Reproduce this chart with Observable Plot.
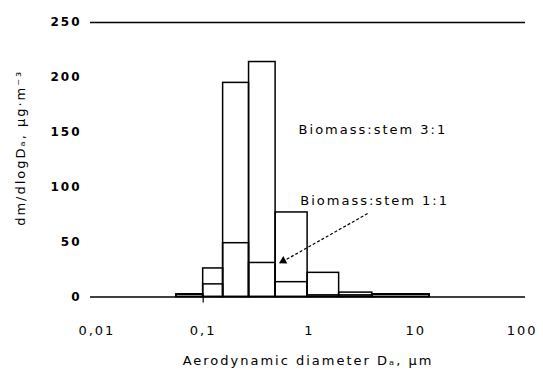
<!DOCTYPE html>
<html>
<head>
<meta charset="utf-8">
<script src="https://cdn.jsdelivr.net/npm/d3@7"></script>
<script src="https://cdn.jsdelivr.net/npm/@observablehq/plot@0.6"></script>
<style>
  body { margin: 0; background: #fff; }
  #chart svg { display: block; }
  #chart svg text { letter-spacing: 2px; }
</style>
</head>
<body>
<div id="chart"></div>
<script>
// Bin edges (aerodynamic diameter, µm)
const binLower = [0.056, 0.1, 0.154, 0.27, 0.48, 0.96, 1.9, 3.9];
const binUpper = [0.1, 0.154, 0.27, 0.48, 0.96, 1.9, 3.9, 13.5];
// dm/dlogDa values
const ratio31 = [2.5, 26, 195, 214, 77, 22, 4, 2.5];
const ratio11 = [2, 11.5, 49, 31, 13.5, 1.5, 1.5, 2];
const xTicks = [0.01, 0.1, 1, 10, 100];
const yTicks = [0, 50, 100, 150, 200, 250];
const gridLines = [0, 250];
const labels = [
  {text: "Biomass:stem 3:1", x: 0.79, y: 152},
  {text: "Biomass:stem 1:1", x: 0.82, y: 88}
];
const arrow = [{x1: 3.52, y1: 76, x2: 0.53, y2: 31}];
const arrowHead = [{x: 0.53, y: 31}];

const bars31 = binLower.map((d, i) => ({x1: d, x2: binUpper[i], y: ratio31[i]}));
const bars11 = binLower.map((d, i) => ({x1: d, x2: binUpper[i], y: ratio11[i]}));

const font = "DejaVu Sans, sans-serif";
const chart = Plot.plot({
  width: 543,
  height: 371,
  marginLeft: 90,
  marginRight: 18,
  marginTop: 22,
  marginBottom: 74.5,
  style: {fontFamily: font, fontSize: "13px", color: "#000", background: "#fff"},
  x: {type: "log", domain: [0.00871, 107.6]},
  y: {domain: [0, 250]},
  marks: [
    Plot.ruleY(gridLines, {stroke: "#000", strokeWidth: 1.5}),
    Plot.rectY(bars31, {x1: "x1", x2: "x2", y: "y", fill: "none", stroke: "#000", strokeWidth: 1.5}),
    Plot.rectY(bars11, {x1: "x1", x2: "x2", y: "y", fill: "none", stroke: "#000", strokeWidth: 1.5}),
    Plot.axisY({ticks: yTicks, tickSize: 0, tickPadding: 9, fontWeight: "bold", fontSize: 12, label: null}),
    Plot.axisX({ticks: xTicks, tickSize: 0, tickPadding: 29, tickFormat: d => String(d).replace(".", ","), label: null, fontSize: 13}),
    Plot.axisX({ticks: [0.1], tickSize: 6, text: null, label: null, strokeWidth: 1.2}),
    Plot.text(labels, {x: "x", y: "y", text: "text", textAnchor: "start", fontSize: 13}),
    Plot.link(arrow, {x1: "x1", y1: "y1", x2: "x2", y2: "y2", stroke: "#000", strokeWidth: 1.2, strokeDasharray: "3,2"}),
    Plot.dot(arrowHead, {x: "x", y: "y", symbol: "triangle2", r: 4, fill: "#000", rotate: -119, dx: 3, dy: -2}),
    Plot.text(["Aerodynamic diameter Dₐ, μm"], {frameAnchor: "bottom", dy: 68, fontSize: 13}),
    Plot.text(["dm/dlogDₐ, μg·m⁻³"], {frameAnchor: "left", textAnchor: "middle", dx: -70, dy: -12, rotate: -90, fontSize: 13})
  ]
});
document.getElementById("chart").appendChild(chart);
</script>
</body>
</html>
